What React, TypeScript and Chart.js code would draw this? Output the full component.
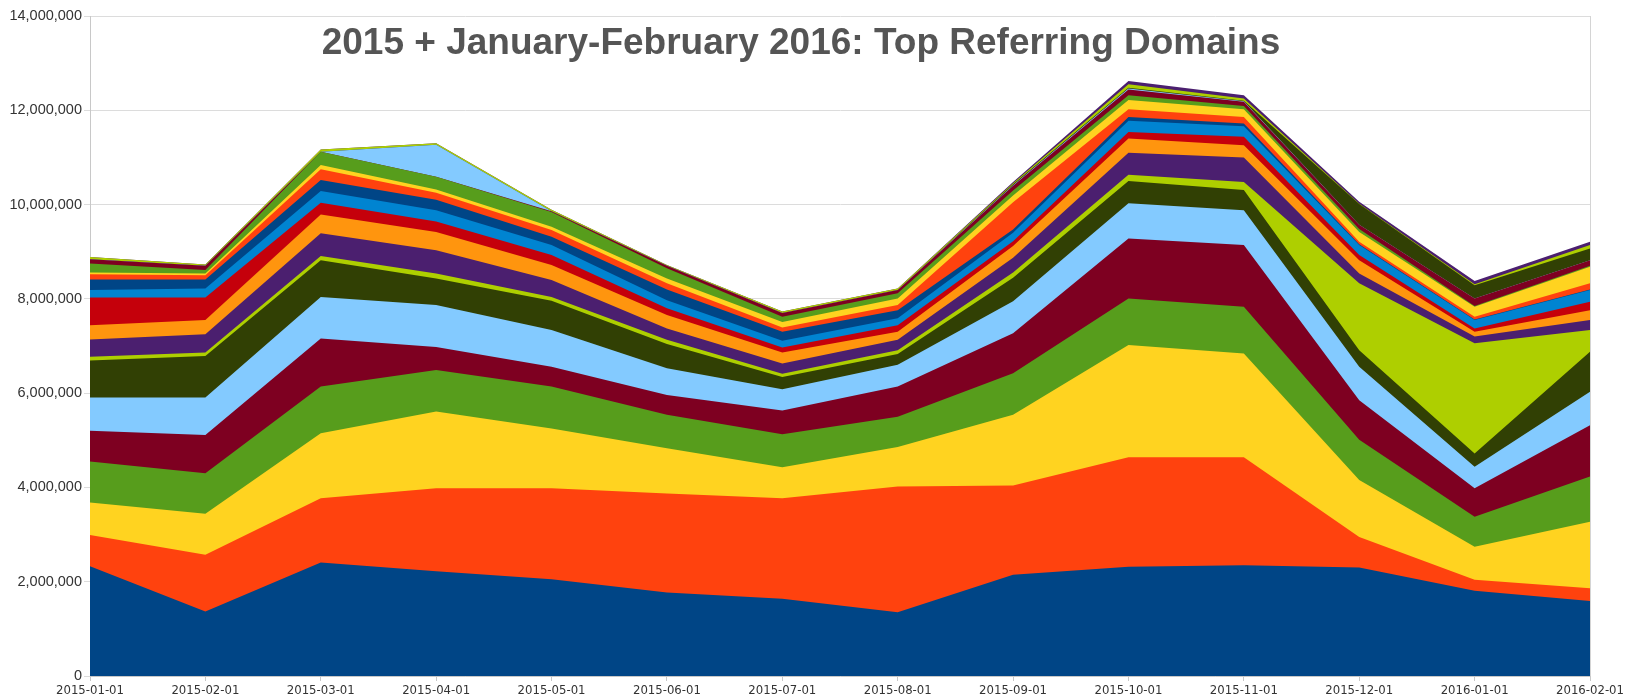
import React, { useEffect, useRef } from "react";
import { Chart, registerables } from "chart.js";
Chart.register(...registerables);

const months = [
  "2015-01-01", "2015-02-01", "2015-03-01", "2015-04-01", "2015-05-01", "2015-06-01", "2015-07-01",
  "2015-08-01", "2015-09-01", "2015-10-01", "2015-11-01", "2015-12-01", "2016-01-01", "2016-02-01",
];

const yTicks = [0, 2000000, 4000000, 6000000, 8000000, 10000000, 12000000, 14000000];

const domain01 = [2330000, 1370000, 2410000, 2220000, 2050000, 1770000, 1640000, 1350000, 2150000, 2320000, 2350000, 2300000, 1810000, 1590000];
const domain02 = [660000, 1200000, 1360000, 1760000, 1930000, 2100000, 2130000, 2670000, 1890000, 2320000, 2290000, 650000, 230000, 270000];
const domain03 = [690000, 870000, 1380000, 1630000, 1270000, 960000, 660000, 840000, 1500000, 2380000, 2200000, 1210000, 700000, 1410000];
const domain04 = [870000, 860000, 990000, 880000, 890000, 710000, 700000, 640000, 880000, 990000, 990000, 850000, 640000, 960000];
const domain05 = [650000, 810000, 1020000, 490000, 420000, 420000, 500000, 640000, 850000, 1270000, 1310000, 840000, 600000, 1090000];
const domain06 = [710000, 800000, 880000, 890000, 780000, 570000, 450000, 460000, 680000, 750000, 740000, 710000, 460000, 710000];
const domain07 = [780000, 880000, 780000, 560000, 620000, 510000, 260000, 230000, 500000, 470000, 430000, 350000, 280000, 850000];
const domain08 = [80000, 70000, 90000, 110000, 80000, 90000, 70000, 80000, 110000, 130000, 170000, 1420000, 2340000, 460000];
const domain09 = [370000, 390000, 480000, 490000, 360000, 240000, 220000, 220000, 310000, 470000, 520000, 210000, 140000, 210000];
const domain10 = [300000, 300000, 400000, 390000, 320000, 290000, 230000, 170000, 250000, 300000, 260000, 280000, 100000, 210000];
const domain11 = [590000, 480000, 250000, 220000, 210000, 140000, 110000, 140000, 100000, 140000, 180000, 110000, 70000, 180000];
const domain12 = [160000, 190000, 250000, 240000, 210000, 170000, 140000, 150000, 180000, 240000, 220000, 210000, 180000, 250000];
const domain13 = [220000, 190000, 230000, 220000, 180000, 230000, 190000, 170000, 70000, 80000, 60000, 20000, 10000, 10000];
const domain14 = [110000, 90000, 230000, 150000, 140000, 130000, 90000, 110000, 580000, 160000, 140000, 50000, 60000, 130000];
const domain15 = [40000, 40000, 90000, 70000, 70000, 100000, 120000, 140000, 140000, 200000, 160000, 210000, 210000, 350000];
const domain16 = [190000, 70000, 280000, 270000, 310000, 220000, 110000, 110000, 110000, 100000, 70000, 60000, 20000, 20000];
const domain17 = [90000, 90000, 0, 0, 20000, 50000, 80000, 70000, 100000, 120000, 90000, 90000, 160000, 120000];
const domain18 = [0, 0, 0, 680000, 0, 0, 0, 0, 10000, 20000, 10000, 0, 0, 0];
const domain19 = [0, 0, 0, 0, 0, 0, 0, 0, 20000, 20000, 10000, 440000, 280000, 250000];
const domain20 = [50000, 30000, 50000, 30000, 30000, 20000, 30000, 30000, 20000, 70000, 50000, 10000, 20000, 70000];
const domain21 = [0, 0, 0, 0, 0, 0, 0, 0, 30000, 70000, 70000, 40000, 70000, 70000];

const seriesValues = [
  domain01, domain02, domain03, domain04, domain05, domain06, domain07,
  domain08, domain09, domain10, domain11, domain12, domain13, domain14,
  domain15, domain16, domain17, domain18, domain19, domain20, domain21,
];

const palette = [
  "#004586", "#ff420e", "#ffd320", "#579d1c", "#7e0021", "#83caff",
  "#314004", "#aecf00", "#4b1f6f", "#ff950e", "#c5000b", "#0084d1",
];

const titleText = "2015 + January-February 2016: Top Referring Domains";

const rightBorder = {
  id: "rightBorder",
  beforeDatasetsDraw(chart: any) {
    const { ctx, chartArea } = chart;
    ctx.save();
    ctx.strokeStyle = "#d4d4d4";
    ctx.lineWidth = 1;
    ctx.beginPath();
    ctx.moveTo(Math.round(chartArea.right) + 0.5, chartArea.top);
    ctx.lineTo(Math.round(chartArea.right) + 0.5, chartArea.bottom);
    ctx.stroke();
    ctx.restore();
  },
};

export default function App() {
  const ref = useRef<HTMLCanvasElement | null>(null);

  useEffect(() => {
    document.body.style.margin = "0";
    const canvas = ref.current;
    if (!canvas) return;
    const chart = new Chart(canvas, {
      type: "line",
      data: {
        labels: months,
        datasets: seriesValues.map((vals, i) => ({
          label: "Domain " + (i + 1),
          data: vals,
          backgroundColor: palette[i % palette.length],
          borderColor: palette[i % palette.length],
          borderWidth: 0,
          pointRadius: 0,
          tension: 0,
          fill: "origin",
        })),
      },
      options: {
        animation: false,
        responsive: false,
        devicePixelRatio: 1,
        layout: { padding: { top: 16, right: 36, left: 0, bottom: 0 } },
        plugins: {
          legend: { display: false },
          tooltip: { enabled: false },
          title: { display: false },
        },
        scales: {
          x: {
            grid: { display: true, drawOnChartArea: false, color: "#c8c8c8", tickLength: 5 },
            border: { display: true, color: "#c8c8c8" },
            ticks: {
              color: "#333",
              font: { family: "'Liberation Sans Narrow', 'DejaVu Sans Condensed', Arial, sans-serif", size: 13 },
              padding: 2,
              maxRotation: 0,
              autoSkip: false,
            },
            afterFit(scale: any) {
              scale.height = 23;
            },
          },
          y: {
            stacked: true,
            min: 0,
            max: 14000000,
            afterBuildTicks(scale: any) {
              scale.ticks = yTicks.map((v) => ({ value: v }));
            },
            grid: { color: "#dcdcdc", tickLength: 6 },
            border: { display: true, color: "#c8c8c8" },
            ticks: {
              color: "#333",
              font: { family: "'Liberation Sans', Arial, sans-serif", size: 14.5 },
              padding: 2,
              callback: (v: any) => Number(v).toLocaleString("en-US"),
            },
            afterFit(scale: any) {
              scale.width = 90;
            },
          },
        },
      },
      plugins: [rightBorder],
    });
    return () => chart.destroy();
  }, []);

  return (
    <div style={{ position: "relative", width: 1626, height: 699 }}>
      <canvas ref={ref} width={1626} height={699} style={{ display: "block" }} />
      <div
        style={{
          position: "absolute",
          left: 801,
          top: 20,
          transform: "translateX(-50%)",
          whiteSpace: "nowrap",
          fontFamily: "'Liberation Sans', Arial, sans-serif",
          fontWeight: "bold",
          fontSize: 37,
          lineHeight: "44px",
          color: "#555555",
        }}
      >
        {titleText}
      </div>
    </div>
  );
}
